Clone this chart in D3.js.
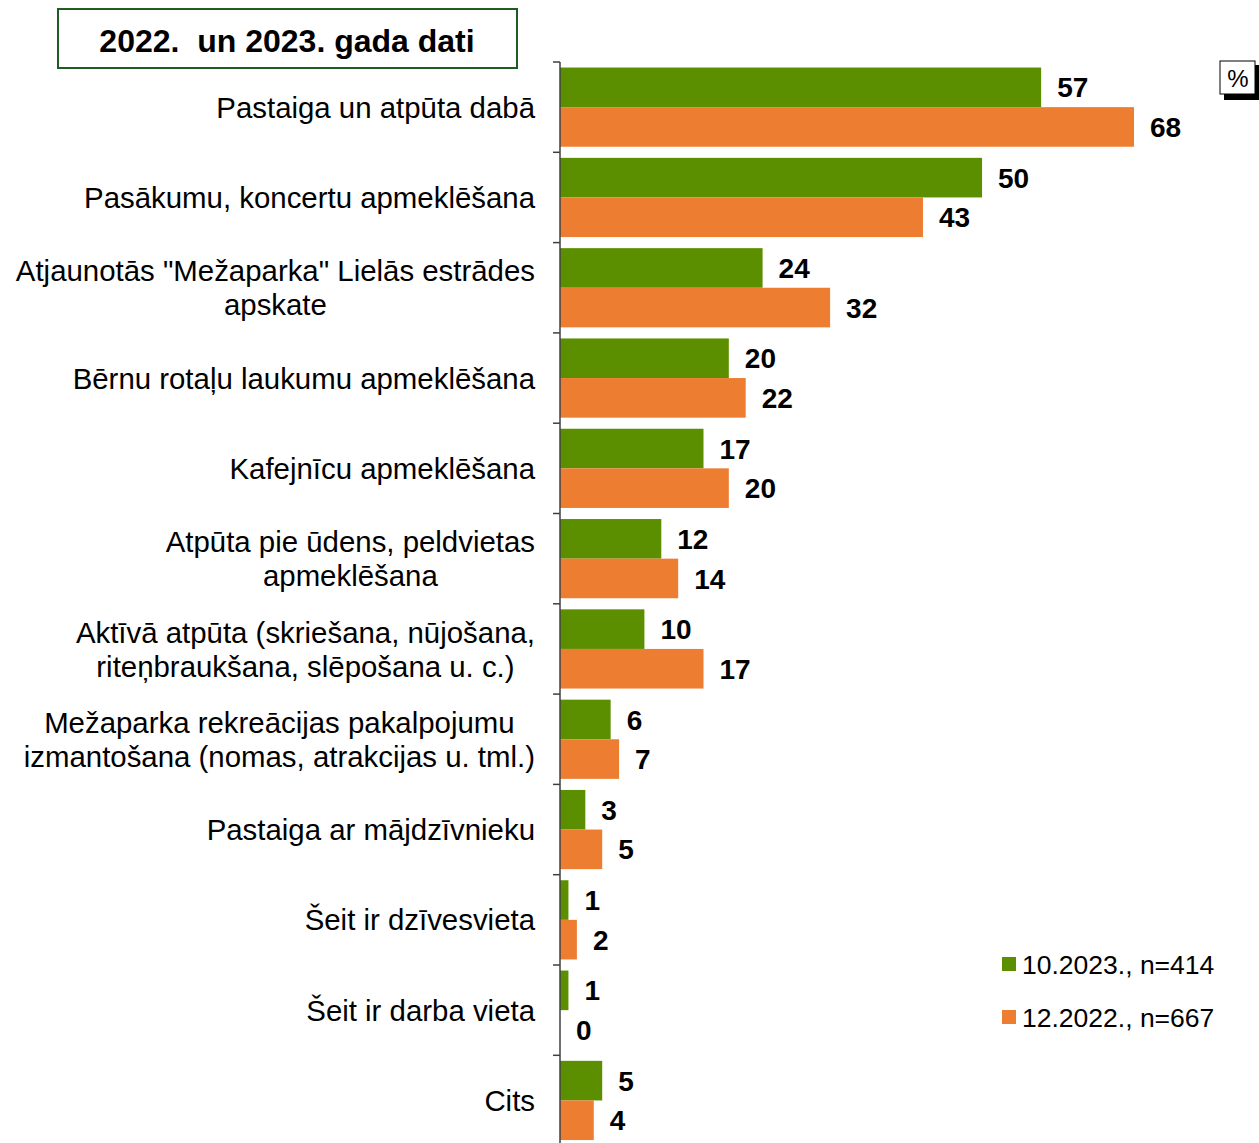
<!DOCTYPE html>
<html>
<head>
<meta charset="utf-8">
<script src="https://cdn.jsdelivr.net/npm/d3@7"></script>
<style>
  body { margin: 0; background: #fff; }
  svg { font-family: "Liberation Sans", Arial, sans-serif; }
</style>
</head>
<body>
<div id="chart"></div>
<script>
// categories (each may break onto two lines)
const categories = [
    ["Pastaiga un atpūta dabā"],
    ["Pasākumu, koncertu apmeklēšana"],
    ["Atjaunotās \"Mežaparka\" Lielās estrādes", "apskate"],
    ["Bērnu rotaļu laukumu apmeklēšana"],
    ["Kafejnīcu apmeklēšana"],
    ["Atpūta pie ūdens, peldvietas", "apmeklēšana"],
    ["Aktīvā atpūta (skriešana, nūjošana,", "riteņbraukšana, slēpošana u. c.)"],
    ["Mežaparka rekreācijas pakalpojumu", "izmantošana (nomas, atrakcijas u. tml.)"],
    ["Pastaiga ar mājdzīvnieku"],
    ["Šeit ir dzīvesvieta"],
    ["Šeit ir darba vieta"],
    ["Cits"]
];
const values2023 = [57, 50, 24, 20, 17, 12, 10, 6, 3, 1, 1, 5];
const values2022 = [68, 43, 32, 22, 20, 14, 17, 7, 5, 2, 0, 4];
const seriesNames = ["10.2023., n=414", "12.2022., n=667"];
const seriesColors = ["#5b8f00", "#ed7d31"];

const width = 1259, height = 1143;
const x0 = 560;
const svg = d3.select("#chart").append("svg")
    .attr("width", width)
    .attr("height", height);

const x = d3.scaleLinear().domain([0, 68]).range([x0, x0 + 574]);
const y = d3.scaleBand()
    .domain(d3.range(categories.length))
    .range([62, 62 + 90.3 * categories.length]);
const sub = d3.scaleBand().domain([0, 1]).range([0, y.bandwidth()]).paddingOuter(0.14);

// bars and value labels
const series = [values2023, values2022];
series.forEach((vals, s) => {
    const g = svg.append("g");
    g.selectAll("rect")
        .data(vals)
        .enter()
        .append("rect")
        .attr("x", x0)
        .attr("y", (d, i) => y(i) + sub(s))
        .attr("width", d => x(d) - x0)
        .attr("height", sub.bandwidth())
        .attr("fill", seriesColors[s]);
    g.selectAll("text")
        .data(vals)
        .enter()
        .append("text")
        .attr("x", d => x(d) + 16)
        .attr("y", (d, i) => y(i) + sub(s) + sub.bandwidth() / 2)
        .attr("dy", "0.36em")
        .attr("font-size", 28)
        .attr("font-weight", "bold")
        .text(d => d);
});

// axis with ticks between categories
const axis = svg.append("g");
axis.append("line")
    .attr("x1", x0).attr("x2", x0)
    .attr("y1", y.range()[0]).attr("y2", y.range()[1])
    .attr("stroke", "#404040").attr("stroke-width", 1.5);
axis.selectAll("line.tick")
    .data(d3.range(categories.length + 1))
    .enter()
    .append("line")
    .attr("class", "tick")
    .attr("x1", x0 - 7).attr("x2", x0)
    .attr("y1", i => y.range()[0] + i * y.step())
    .attr("y2", i => y.range()[0] + i * y.step())
    .attr("stroke", "#404040").attr("stroke-width", 1.5);

// category labels: block right-aligned at 535, lines centred in the block
categories.forEach((lines, i) => {
    const cy = y(i) + y.bandwidth() / 2;
    const t = svg.append("text")
        .attr("text-anchor", "middle")
        .attr("font-size", 29.4)
        .attr("fill", "#000");
    const spans = lines.map((ln, j) => t.append("tspan")
        .attr("y", cy + (j - (lines.length - 1) / 2) * 34)
        .attr("dy", "0.36em")
        .text(ln));
    const maxW = d3.max(spans, sp => sp.node().getComputedTextLength());
    spans.forEach(sp => sp.attr("x", 535 - maxW / 2));
});

// title box
svg.append("rect")
    .attr("x", 58).attr("y", 9).attr("width", 459).attr("height", 59)
    .attr("fill", "#fff").attr("stroke", "#1f5c22").attr("stroke-width", 2);
svg.append("text")
    .attr("x", 287).attr("y", 40).attr("dy", "0.36em")
    .attr("text-anchor", "middle")
    .attr("font-size", 32).attr("font-weight", "bold")
    .style("white-space", "pre")
    .text("2022.  un 2023. gada dati");

// percent box
svg.append("rect")
    .attr("x", 1224).attr("y", 65).attr("width", 35).attr("height", 35)
    .attr("fill", "#000");
svg.append("rect")
    .attr("x", 1220).attr("y", 61).attr("width", 35).attr("height", 33)
    .attr("fill", "#fff").attr("stroke", "#000").attr("stroke-width", 1);
svg.append("text")
    .attr("x", 1238).attr("y", 78).attr("dy", "0.36em")
    .attr("text-anchor", "middle").attr("font-size", 24)
    .text("%");

// legend
const legend = svg.append("g");
seriesNames.forEach((name, s) => {
    const ly = 964 + s * 53;
    legend.append("rect")
        .attr("x", 1002).attr("y", ly - 7).attr("width", 14).attr("height", 14)
        .attr("fill", seriesColors[s]);
    legend.append("text")
        .attr("x", 1022).attr("y", ly).attr("dy", "0.36em")
        .attr("font-size", 26.5)
        .text(name);
});
</script>
</body>
</html>
